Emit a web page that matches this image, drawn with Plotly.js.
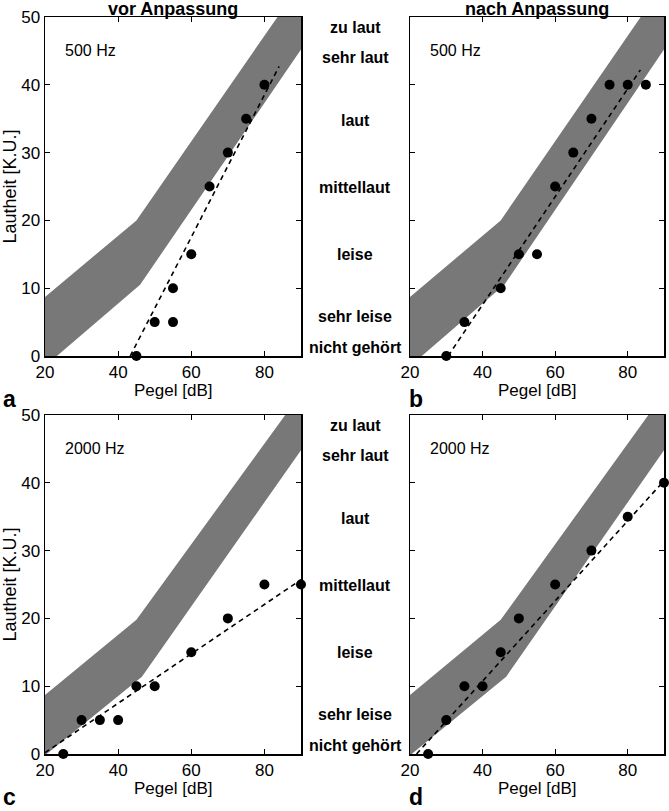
<!DOCTYPE html>
<html>
<head>
<meta charset="utf-8">
<script src="https://cdn.plot.ly/plotly-3.0.1.min.js"></script>
<style>
  html, body { margin: 0; padding: 0; background: #fff; }
  #chart { width: 669px; height: 811px; }
</style>
</head>
<body>
<div id="chart"></div>
<script>
/* ─── Data ─── */

// normal-hearing reference band (upper / lower edge)
const band500UpX = [20, 45, 90];
const band500UpY = [8.7, 20, 55];
const band500LoX = [20, 46, 90];
const band500LoY = [-1.5, 10.5, 45.2];

const band2000UpX = [20, 45, 90];
const band2000UpY = [8.7, 19.8, 53.2];
const band2000LoX = [20, 46.5, 90];
const band2000LoY = [-0.2, 11.4, 44.8];

// a: 500 Hz, vor Anpassung
const aX = [45, 50, 55, 55, 60, 65, 70, 75, 80];
const aY = [0, 5, 5, 10, 15, 25, 30, 35, 40];
const aFitX = [43.3, 84];
const aFitY = [0, 42.7];

// b: 500 Hz, nach Anpassung
const bX = [30, 35, 45, 50, 55, 60, 65, 70, 75, 80, 85];
const bY = [0, 5, 10, 15, 15, 25, 30, 35, 40, 40, 40];
const bFitX = [30.5, 83.5];
const bFitY = [0, 42.2];

// c: 2000 Hz, vor Anpassung
const cX = [25, 30, 35, 40, 45, 50, 60, 70, 80, 90];
const cY = [0, 5, 5, 5, 10, 10, 15, 20, 25, 25];
const cFitX = [20, 90];
const cFitY = [0.2, 25.7];

// d: 2000 Hz, nach Anpassung
const dX = [25, 30, 35, 40, 45, 50, 60, 70, 80, 90];
const dY = [0, 5, 10, 10, 15, 20, 25, 30, 35, 40];
const dFitX = [21.8, 90];
const dFitY = [0, 40.3];

// categorical loudness scale (label, K.U. position of label)
const catLabels = ['nicht gehört', 'sehr leise', 'leise', 'mittellaut', 'laut', 'sehr laut', 'zu laut'];
const catY = [1.3, 5.9, 14.9, 24.8, 34.8, 44, 48.4];

const xTicks = [20, 40, 60, 80];
const yTicks = [0, 10, 20, 30, 40, 50];

/* ─── Styling ─── */
const FONT = 'Liberation Sans, Arial, Helvetica, sans-serif';
const BAND = '#787878';

function bandTrace(upX, upY, loX, loY, ax) {
  return {
    x: upX.concat(loX.slice().reverse()),
    y: upY.concat(loY.slice().reverse()),
    xaxis: 'x' + ax, yaxis: 'y' + ax,
    mode: 'lines', fill: 'toself',
    fillcolor: BAND, line: { width: 0, color: BAND },
    hoverinfo: 'skip',
  };
}

function fitTrace(x, y, ax) {
  return {
    x, y, xaxis: 'x' + ax, yaxis: 'y' + ax,
    mode: 'lines', line: { color: '#000', width: 1.6, dash: '5px,4px' },
  };
}

function dotTrace(x, y, ax) {
  return {
    x, y, xaxis: 'x' + ax, yaxis: 'y' + ax,
    mode: 'markers', cliponaxis: false,
    marker: { color: '#000', size: 10 },
  };
}

const traces = [
  bandTrace(band500UpX, band500UpY, band500LoX, band500LoY, ''),
  fitTrace(aFitX, aFitY, ''), dotTrace(aX, aY, ''),
  bandTrace(band500UpX, band500UpY, band500LoX, band500LoY, '2'),
  fitTrace(bFitX, bFitY, '2'), dotTrace(bX, bY, '2'),
  bandTrace(band2000UpX, band2000UpY, band2000LoX, band2000LoY, '3'),
  fitTrace(cFitX, cFitY, '3'), dotTrace(cX, cY, '3'),
  bandTrace(band2000UpX, band2000UpY, band2000LoX, band2000LoY, '4'),
  fitTrace(dFitX, dFitY, '4'), dotTrace(dX, dY, '4'),
];

const W = 669, H = 811;
const px = v => v / W;
const py = v => 1 - v / H;

function xAxis(l, r, anchor) {
  return {
    domain: [px(l), px(r)], anchor,
    range: [20, 90], tickvals: xTicks, ticktext: xTicks.map(String),
    ticks: 'inside', ticklen: 5, tickwidth: 1.2, tickcolor: '#000',
    showline: true, linecolor: '#000', linewidth: 1.5, mirror: 'ticks',
    showgrid: false, zeroline: false,
    tickfont: { family: FONT, size: 17, color: '#000' },
  };
}

function yAxis(t, b, anchor, labels) {
  return {
    domain: [py(b), py(t)], anchor,
    range: [0, 50], tickvals: yTicks, ticktext: yTicks.map(String),
    showticklabels: labels,
    ticks: 'inside', ticklen: 5, tickwidth: 1.2, tickcolor: '#000',
    showline: true, linecolor: '#000', linewidth: 1.5, mirror: 'ticks',
    showgrid: false, zeroline: false,
    tickfont: { family: FONT, size: 17, color: '#000' },
    title: labels
      ? { text: 'Lautheit [K.U.]', font: { family: FONT, size: 18, color: '#000' }, standoff: 2 }
      : undefined,
  };
}

const annotations = [];
function note(text, x, y, xref, yref, size, bold, xanchor) {
  annotations.push({
    text: bold ? '<b>' + text + '</b>' : text,
    x, y, xref, yref, showarrow: false,
    xanchor: xanchor || 'center', yanchor: 'middle',
    font: { family: FONT, size, color: '#000' },
  });
}

note('vor Anpassung', px(173), py(9), 'paper', 'paper', 18, true);
note('nach Anpassung', px(537), py(9), 'paper', 'paper', 18, true);
note('Pegel [dB]', px(173), py(390), 'paper', 'paper', 17, false);
note('Pegel [dB]', px(537), py(390), 'paper', 'paper', 17, false);
note('Pegel [dB]', px(173), py(788), 'paper', 'paper', 17, false);
note('Pegel [dB]', px(537), py(788), 'paper', 'paper', 17, false);
note('a', px(9), py(399), 'paper', 'paper', 23, true);
note('b', px(416), py(399), 'paper', 'paper', 23, true);
note('c', px(9), py(797), 'paper', 'paper', 23, true);
note('d', px(416), py(797), 'paper', 'paper', 23, true);
note('500 Hz', 25, 45, 'x', 'y', 16, false, 'left');
note('500 Hz', 25, 45, 'x2', 'y2', 16, false, 'left');
note('2000 Hz', 25, 45, 'x3', 'y3', 16, false, 'left');
note('2000 Hz', 25, 45, 'x4', 'y4', 16, false, 'left');
catLabels.forEach((lab, i) => {
  note(lab, px(355), catY[i], 'paper', 'y', 16, true);
  note(lab, px(355), catY[i], 'paper', 'y3', 16, true);
});

const layout = {
  width: W, height: H,
  margin: { l: 0, r: 0, t: 0, b: 0 },
  paper_bgcolor: '#fff', plot_bgcolor: '#fff',
  showlegend: false,
  font: { family: FONT, color: '#000' },
  xaxis: xAxis(45, 301, 'y'),
  yaxis: yAxis(17, 356, 'x', true),
  xaxis2: xAxis(410, 664, 'y2'),
  yaxis2: yAxis(17, 356, 'x2', false),
  xaxis3: xAxis(45, 301, 'y3'),
  yaxis3: yAxis(415, 754, 'x3', true),
  xaxis4: xAxis(410, 664, 'y4'),
  yaxis4: yAxis(415, 754, 'x4', false),
  annotations,
};

Plotly.newPlot('chart', traces, layout, { displayModeBar: false, staticPlot: true });
</script>
</body>
</html>
